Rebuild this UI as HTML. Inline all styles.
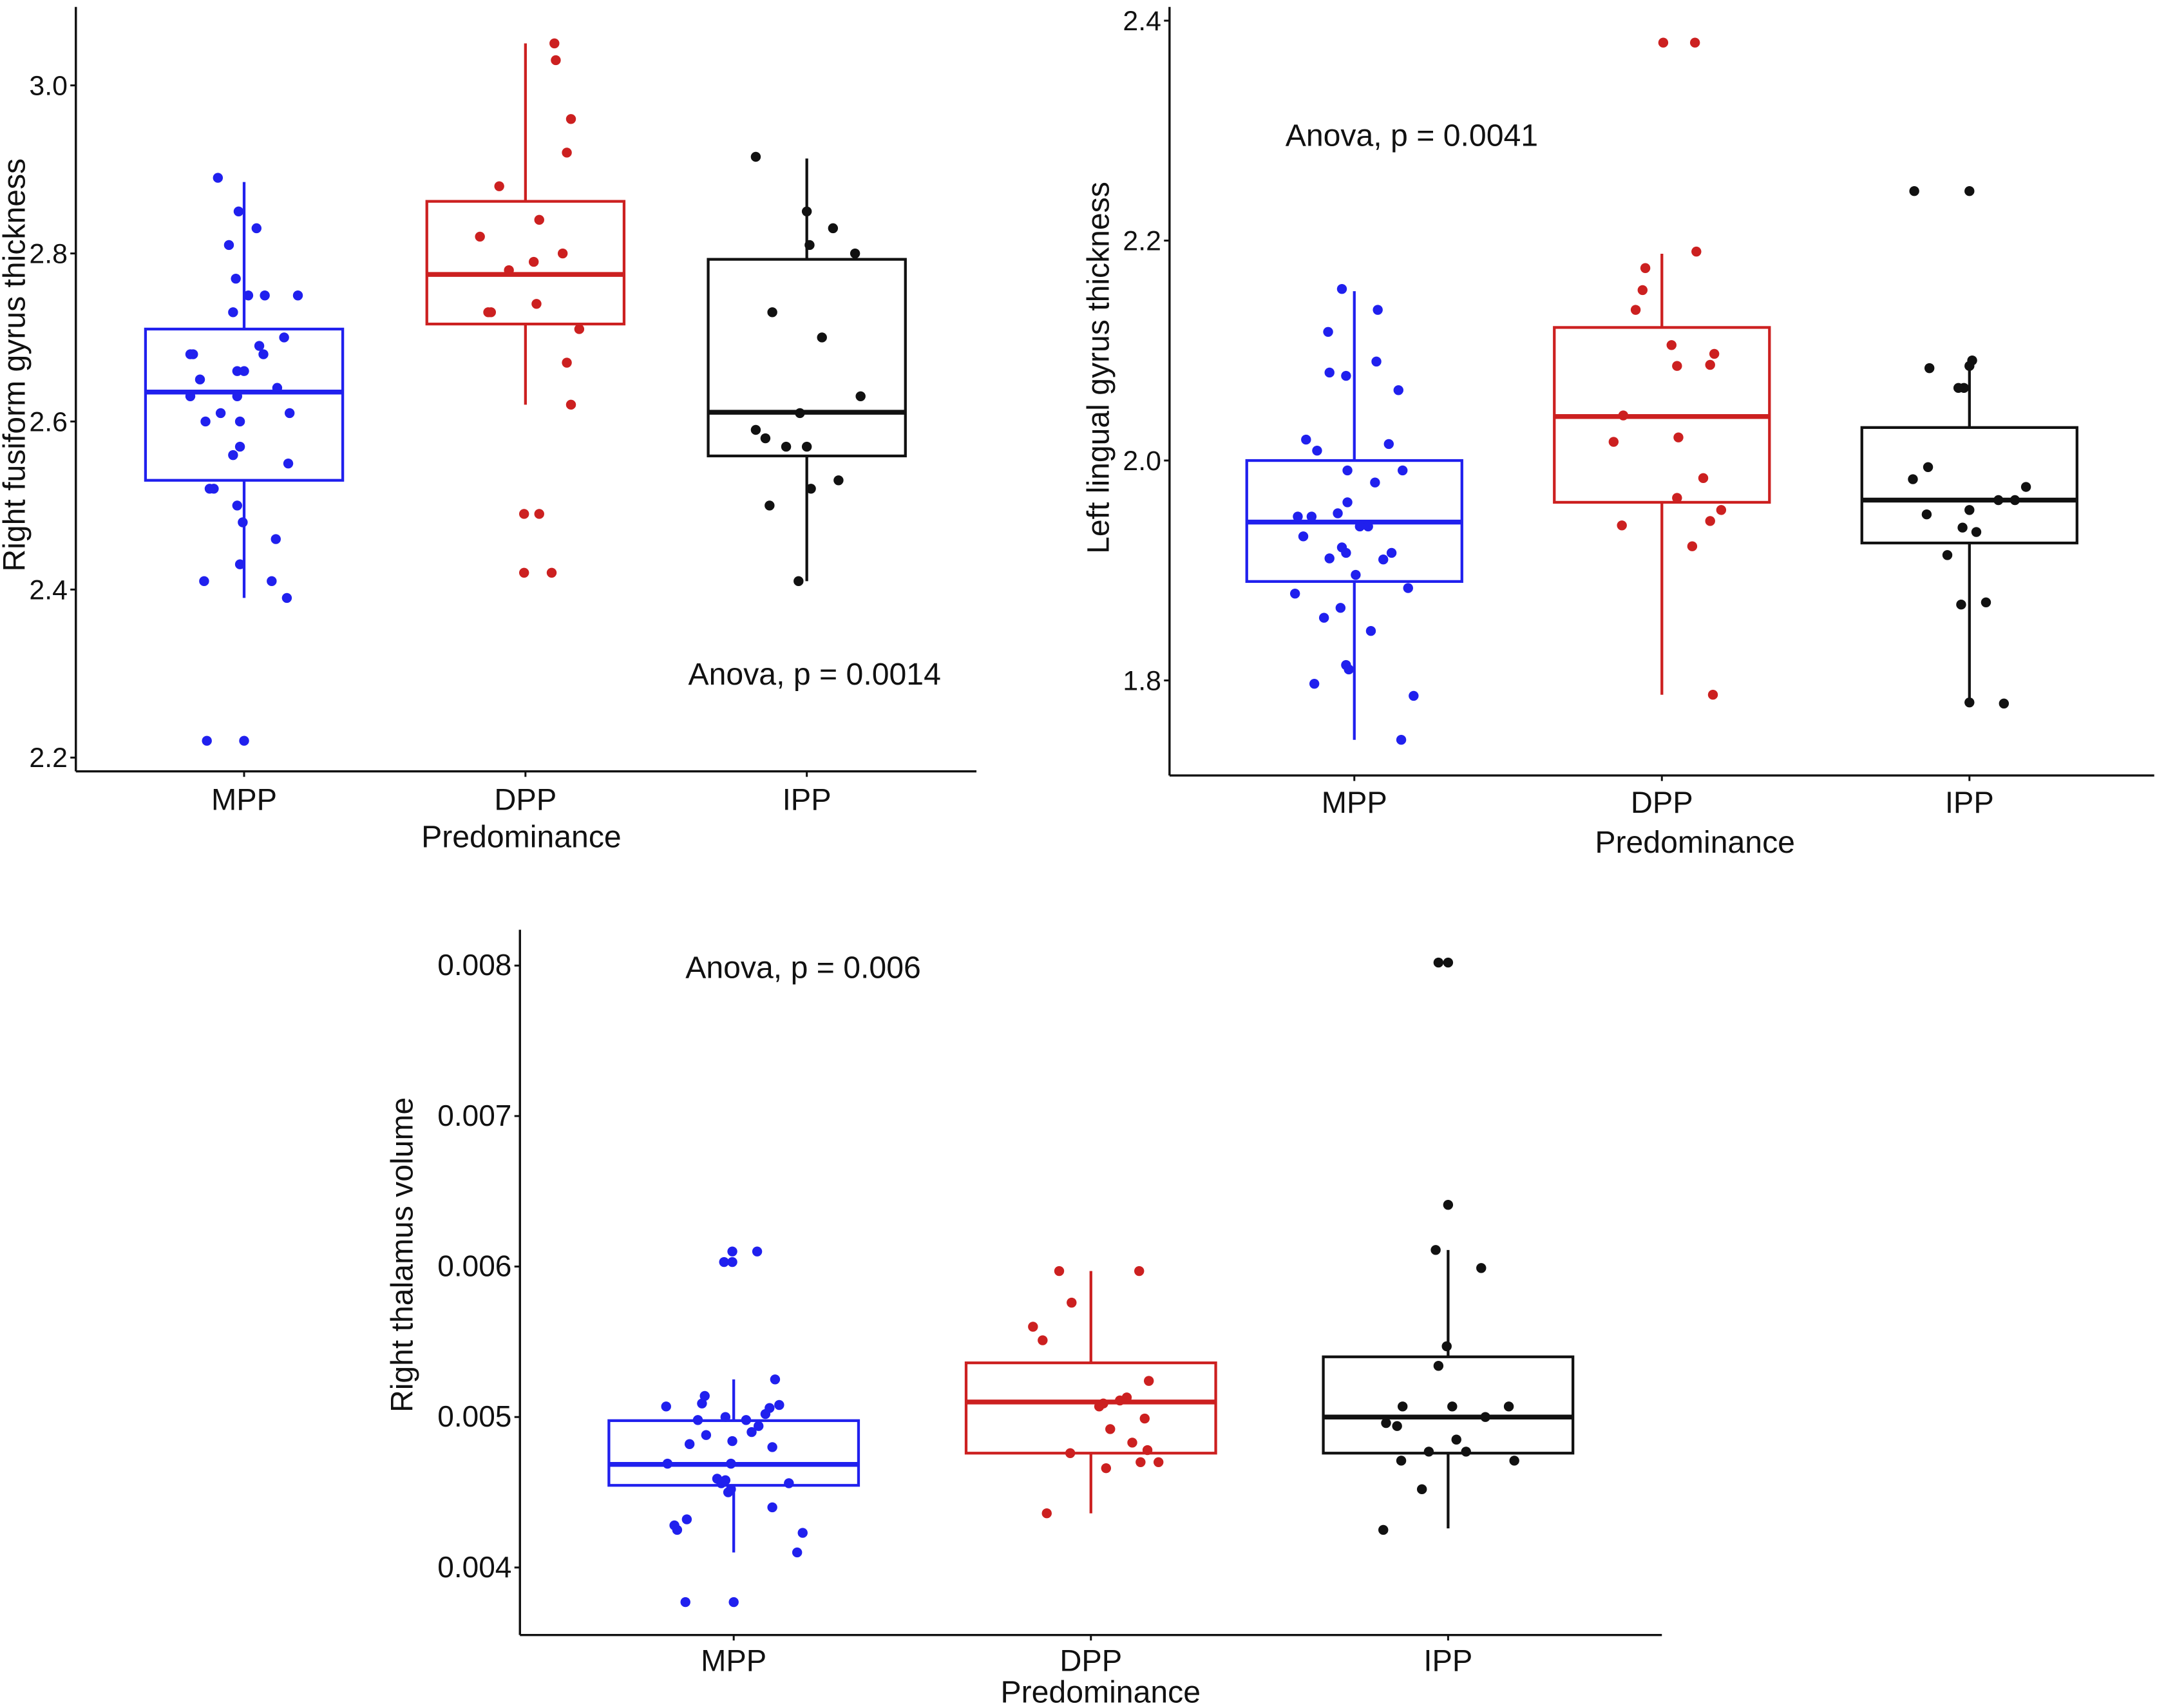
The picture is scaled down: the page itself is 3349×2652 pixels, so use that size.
<!DOCTYPE html>
<html>
<head>
<meta charset="utf-8">
<style>
html,body{margin:0;padding:0;background:#fff;}
svg{display:block;}
text{font-family:"Liberation Sans",sans-serif;fill:#111;}
.tick{font-family:"Liberation Sans Narrow","Liberation Sans",sans-serif;font-size:20px;}
</style>
</head>
<body>
<svg id="fig" width="3349" height="2652" viewBox="0 0 1564 1240" preserveAspectRatio="none" xmlns="http://www.w3.org/2000/svg"></svg>
<script>
// ---------- data ----------
const categories = ["MPP","DPP","IPP"];
const colors = ["#2020ee","#cc2020","#111111"];

// Panel A: Right fusiform gyrus thickness
const aTicks = [2.2,2.4,2.6,2.8,3.0];
const aQ1 = [2.53,2.716,2.559];
const aMed = [2.635,2.775,2.611];
const aQ3 = [2.71,2.862,2.793];
const aLo = [2.39,2.62,2.41];
const aHi = [2.885,3.05,2.913];
const aMPP = [2.89,2.85,2.83,2.81,2.77,2.75,2.75,2.75,2.73,2.70,2.69,2.68,2.68,2.68,2.65,2.66,2.66,2.63,2.63,2.64,2.61,2.61,2.60,2.60,2.57,2.56,2.55,2.52,2.52,2.50,2.48,2.46,2.43,2.41,2.41,2.39,2.22,2.22];
const aMPPj = [-19,-4,9,-11,-6,15,3,39,-8,29,11,14,-37,-39,-32,-5,0,-39,-5,24,-17,33,-3,-28,-3,-8,32,-25,-22,-5,-1,23,-3,-29,20,31,-27,0];
const aDPP = [3.05,3.03,2.96,2.92,2.88,2.84,2.82,2.80,2.79,2.78,2.73,2.73,2.74,2.71,2.67,2.62,2.49,2.49,2.42,2.42];
const aDPPj = [21,22,33,30,-19,10,-33,27,6,-12,-27,-25,8,39,30,33,-1,10,-1,19];
const aIPP = [2.915,2.85,2.83,2.81,2.80,2.73,2.70,2.63,2.61,2.59,2.58,2.57,2.57,2.52,2.53,2.50,2.41];
const aIPPj = [-37,0,19,2,35,-25,11,39,-5,-37,-30,-15,0,3,23,-27,-6];

// Panel B: Left lingual gyrus thickness
const bTicks = [1.8,2.0,2.2,2.4];
const bQ1 = [1.89,1.962,1.925];
const bMed = [1.944,2.04,1.964];
const bQ3 = [2.0,2.121,2.03];
const bLo = [1.746,1.787,1.781];
const bHi = [2.154,2.188,2.09];
const bMPP = [2.156,2.137,2.117,2.09,2.08,2.077,2.064,2.019,2.009,2.015,1.991,1.991,1.98,1.962,1.949,1.949,1.952,1.94,1.94,1.931,1.921,1.916,1.916,1.911,1.91,1.896,1.884,1.879,1.866,1.857,1.845,1.814,1.81,1.797,1.786,1.746];
const bMPPj = [-9,17,-19,16,-18,-6,32,-35,-27,25,-5,35,15,-5,-41,-31,-12,10,4,-37,-9,-6,27,-18,21,1,39,-43,-10,-22,12,-6,-4,-29,43,34];
const bDPP = [2.38,2.38,2.19,2.175,2.155,2.137,2.105,2.097,2.086,2.087,2.041,2.021,2.017,1.984,1.966,1.955,1.945,1.941,1.922,1.787];
const bDPPj = [1,24,25,-12,-14,-19,7,38,11,35,-28,12,-35,30,11,43,35,-29,22,37];
const bIPP = [2.245,2.245,2.091,2.086,2.084,2.066,2.066,1.994,1.983,1.964,1.964,1.976,1.955,1.951,1.939,1.935,1.914,1.869,1.871,1.78,1.779];
const bIPPj = [-40,0,2,0,-29,-4,-8,-30,-41,21,33,41,0,-31,-5,5,-16,-6,12,0,25];

// Panel C: Right thalamus volume (x 0.001)
const cTicks = [4,5,6,7,8];
const cQ1 = [4.546,4.76,4.76];
const cMed = [4.685,5.10,5.00];
const cQ3 = [4.976,5.36,5.40];
const cLo = [4.10,4.36,4.26];
const cHi = [5.25,5.97,6.11];
const cMPP = [6.10,6.10,6.03,6.03,5.25,5.14,5.09,5.07,5.06,5.08,5.02,5.00,4.98,4.98,4.94,4.90,4.88,4.82,4.84,4.80,4.69,4.69,4.59,4.56,4.58,4.52,4.56,4.50,4.40,4.32,4.28,4.25,4.23,4.10,3.77,3.77];
const cMPPj = [-1,17,-7,-1,30,-21,-23,-49,26,33,23,-6,-26,9,18,13,-20,-32,-1,28,-48,-2,-12,-9,-6,-2,40,-4,28,-34,-43,-41,50,46,-35,0];
const cDPP = [5.97,5.97,5.76,5.60,5.51,5.24,5.13,5.11,5.09,5.07,4.99,4.92,4.83,4.76,4.78,4.70,4.70,4.66,4.36];
const cDPPj = [-23,35,-14,-42,-35,42,26,21,9,6,39,14,30,-15,41,49,36,11,-32];
const cIPP = [8.02,8.02,6.41,6.11,5.99,5.47,5.34,5.07,5.07,5.07,4.96,4.94,5.00,4.85,4.77,4.77,4.71,4.71,4.52,4.25];
const cIPPj = [-7,0,0,-9,24,-1,-7,-33,44,3,-45,-37,27,6,-14,13,-34,48,-19,-47];

// ---------- drawing ----------
const NS="http://www.w3.org/2000/svg";
const svg=document.getElementById('fig');
function mk(tag,attrs,parent){const e=document.createElementNS(NS,tag);for(const k in attrs)e.setAttribute(k,attrs[k]);(parent||svg).appendChild(e);return e;}

function panel(cfg){
  const g=mk('g',{});
  
  
  const y=v=>cfg.y0+(v-cfg.v0)*(cfg.y1-cfg.y0)/(cfg.v1-cfg.v0);
  const ya=mk('line',{x1:cfg.ax,y1:cfg.axTop,x2:cfg.ax,y2:cfg.axBottom,stroke:'#111','stroke-width':1.6},g);
  
  
  const xa=mk('line',{x1:cfg.ax,y1:cfg.axBottom,x2:cfg.axRight,y2:cfg.axBottom,stroke:'#111','stroke-width':1.6},g);
  
  
  cfg.ticks.forEach(t=>{
    const tl=mk('line',{x1:cfg.ax-4,y1:y(t),x2:cfg.ax,y2:y(t),stroke:'#111','stroke-width':1.4},g);
    
    
    const tx=mk('text',{x:cfg.ax-6,y:y(t)+7,'text-anchor':'end','font-size':cfg.tickSize},g);
    tx.textContent=cfg.fmt(t);
    
    
  });
  categories.forEach((c,i)=>{
    const cx=cfg.cx[i];
    const tl=mk('line',{x1:cx,y1:cfg.axBottom,x2:cx,y2:cfg.axBottom+4,stroke:'#111','stroke-width':1.4},g);
    
    
    const lb=mk('text',{x:cx,y:cfg.catY,'text-anchor':'middle','font-size':22},g);
    lb.textContent=c;
    
    
    const col=colors[i], hw=cfg.bw/2;
    const wh=mk('line',{x1:cx,y1:y(cfg.lo[i]),x2:cx,y2:y(cfg.hi[i]),stroke:col,'stroke-width':2},g);
    
    
    const bx=mk('rect',{x:cx-hw,y:y(cfg.q3[i]),width:cfg.bw,height:y(cfg.q1[i])-y(cfg.q3[i]),fill:'#fff',stroke:col,'stroke-width':2},g);
    
    
    const md=mk('line',{x1:cx-hw,y1:y(cfg.med[i]),x2:cx+hw,y2:y(cfg.med[i]),stroke:col,'stroke-width':3.5},g);
    
    
    const pts=cfg.pts[i], jit=cfg.jit[i];
    pts.forEach((v,k)=>{
      const p=mk('circle',{cx:cx+jit[k],cy:y(v),r:3.6,fill:col},g);
      
      
    });
  });
  const xt=mk('text',{x:cfg.xtX,y:cfg.xtY,'text-anchor':'middle','font-size':22.5},g);
  xt.textContent='Predominance';
  
  
  const yt=mk('text',{x:0,y:0,'text-anchor':'middle','font-size':22.5,transform:'translate('+cfg.ytX+','+cfg.ytY+') rotate(-90)'},g);
  yt.textContent=cfg.ytitle;
  
  
  const an=mk('text',{x:cfg.anX,y:cfg.anY,'font-size':22.5},g);
  an.textContent=cfg.anova;
  
  
}

panel({name:'panel-fusiform',v0:3.0,y0:62,v1:2.2,y1:550,ax:55,axTop:5,axBottom:560,axRight:708,
  ticks:aTicks,tickSize:20,fmt:t=>t.toFixed(1),cx:[177,381,585],bw:143,catY:588,
  q1:aQ1,med:aMed,q3:aQ3,lo:aLo,hi:aHi,pts:[aMPP,aDPP,aIPP],jit:[aMPPj,aDPPj,aIPPj],
  xtX:378,xtY:615,ytX:18,ytY:265,ytitle:'Right fusiform gyrus thickness',anX:499,anY:497,anova:'Anova, p = 0.0014'});

panel({name:'panel-lingual',v0:2.4,y0:15,v1:1.8,y1:494,ax:848,axTop:5,axBottom:563,axRight:1562,
  ticks:bTicks,tickSize:20,fmt:t=>t.toFixed(1),cx:[982,1205,1428],bw:156,catY:590,
  q1:bQ1,med:bMed,q3:bQ3,lo:bLo,hi:bHi,pts:[bMPP,bDPP,bIPP],jit:[bMPPj,bDPPj,bIPPj],
  xtX:1229,xtY:619,ytX:804,ytY:267,ytitle:'Left lingual gyrus thickness',anX:932,anY:106,anova:'Anova, p = 0.0041'});

panel({name:'panel-thalamus',v0:8,y0:701,v1:4,y1:1138,ax:377,axTop:675,axBottom:1187,axRight:1205,
  ticks:cTicks,tickSize:21.5,fmt:t=>(t/1000).toFixed(3),cx:[532,791,1050],bw:181,catY:1213,
  q1:cQ1,med:cMed,q3:cQ3,lo:cLo,hi:cHi,pts:[cMPP,cDPP,cIPP],jit:[cMPPj,cDPPj,cIPPj],
  xtX:798,xtY:1236,ytX:299,ytY:911,ytitle:'Right thalamus volume',anX:497,anY:710,anova:'Anova, p = 0.006'});
</script>
</body>
</html>
